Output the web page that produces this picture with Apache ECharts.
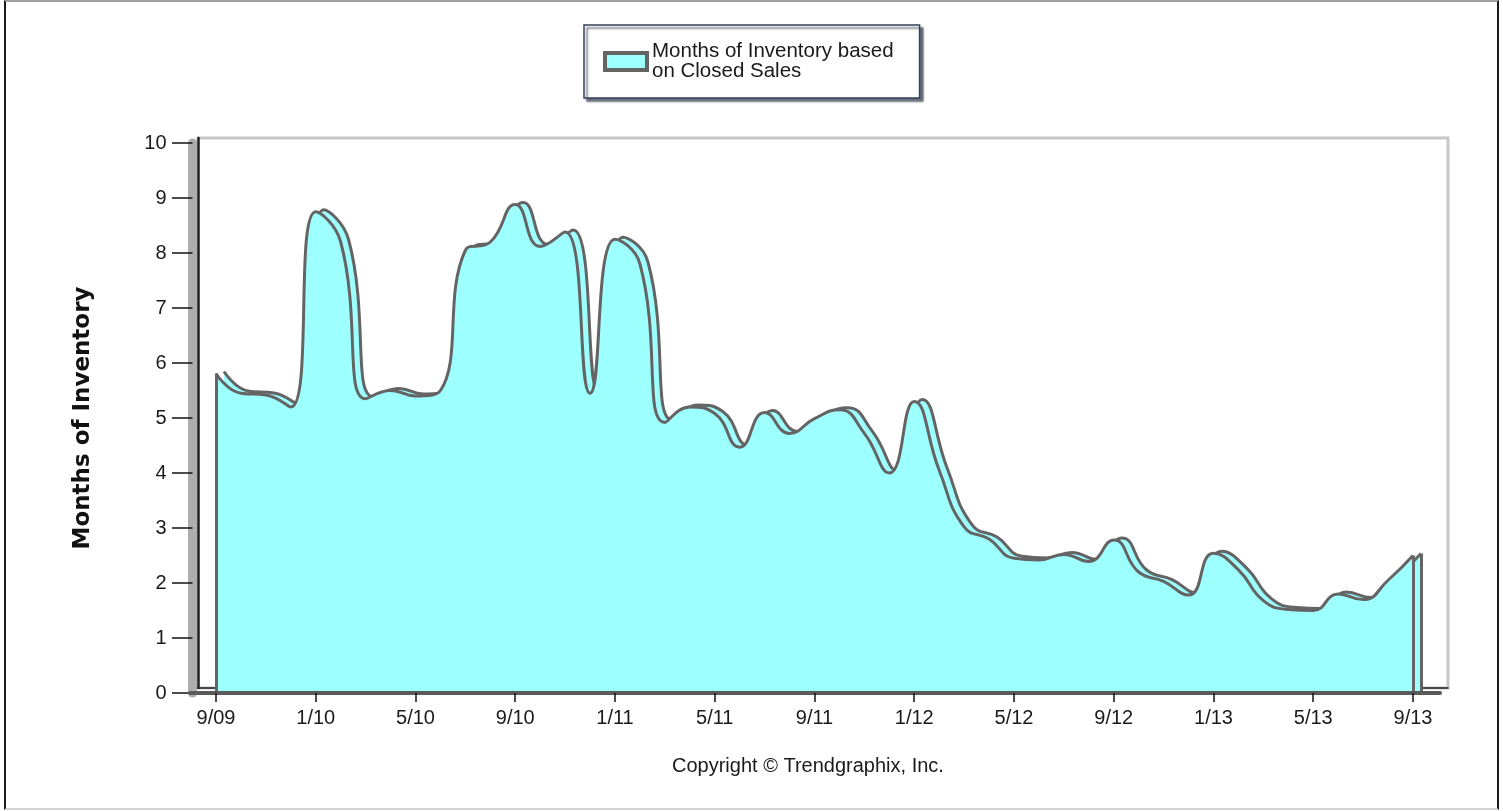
<!DOCTYPE html>
<html>
<head>
<meta charset="utf-8">
<script src="https://cdn.jsdelivr.net/npm/echarts@6/dist/echarts.min.js"></script>
<style>
  html, body { margin: 0; padding: 0; background: #fff; }
  #chart { position: absolute; left: 0; top: 0; width: 1503px; height: 811px; }
  #frame { position: absolute; left: 4px; top: 0; width: 1495px; height: 810px; box-sizing: border-box;
           border-left: 2px solid #1a1a1a; border-right: 2px solid #1a1a1a;
           border-top: 2px solid #a0a0a0; border-bottom: 2px solid #d4d4d4; pointer-events: none; }
</style>
</head>
<body>
<div id="chart"></div>
<div id="frame"></div>
<script>
const months = ['9/09','10/09','11/09','12/09',
  '1/10','2/10','3/10','4/10','5/10','6/10','7/10','8/10','9/10','10/10','11/10','12/10',
  '1/11','2/11','3/11','4/11','5/11','6/11','7/11','8/11','9/11','10/11','11/11','12/11',
  '1/12','2/12','3/12','4/12','5/12','6/12','7/12','8/12','9/12','10/12','11/12','12/12',
  '1/13','2/13','3/13','4/13','5/13','6/13','7/13','8/13','9/13'];

const inventory = [5.81,5.45,5.42,5.2,8.75,8.2,5.35,5.5,5.4,5.5,
  8.05,8.2,8.88,8.12,8.38,5.45,8.25,7.8,4.92,5.2,
  5.08,4.47,5.1,4.72,4.99,5.15,4.72,4.0,5.3,4.05,
  3.02,2.8,2.45,2.42,2.52,2.39,2.78,2.2,2.03,1.78,
  2.54,2.24,1.68,1.52,1.5,1.8,1.7,2.05,2.5];

const tickLabels = ['9/09','1/10','5/10','9/10','1/11','5/11','9/11','1/12','5/12','9/12','1/13','5/13','9/13'];

const seriesName = 'Months of Inventory based on Closed Sales';
const legendText = 'Months of Inventory based\non Closed Sales';
const yAxisTitle = 'Months of Inventory';
const copyright = 'Copyright \u00A9 Trendgraphix, Inc.';

const points = inventory.map((v, i) => [i, v]);
const tickIdx = tickLabels.map(l => months.indexOf(l));
const last = inventory.length - 1;

const FONT = 'Liberation Sans, Arial, sans-serif';
const FILL = '#9effff';
const LINE = '#646464';
const xMin = -1.0426, xMax = 49.083;

function hiddenX(g, lineColor) {
  return { type: 'value', gridIndex: g, min: xMin, max: xMax,
    axisLine: { show: !!lineColor, onZero: false, lineStyle: { color: lineColor || '#000', width: 1.5 } },
    axisTick: { show: false }, axisLabel: { show: false }, splitLine: { show: false } };
}
function hiddenY(g, lineColor) {
  return { type: 'value', gridIndex: g, min: 0, max: 10, interval: 1,
    axisLine: { show: !!lineColor, onZero: false, lineStyle: { color: lineColor || '#000', width: 2.5 } },
    axisTick: { show: false }, axisLabel: { show: false }, splitLine: { show: false } };
}

const chart = echarts.init(document.getElementById('chart'));
chart.setOption({
  animation: false,
  backgroundColor: '#fff',
  title: {
    text: copyright, left: 672, top: 756, padding: 0,
    textStyle: { fontFamily: FONT, fontSize: 20, fontWeight: 'normal', color: '#1a1a1a' }
  },
  legend: {
    data: [seriesName],
    left: 584, top: 25,
    padding: [16, 26, 16, 19],
    itemWidth: 42, itemHeight: 17,
    icon: 'rect',
    itemStyle: { color: FILL, borderColor: LINE, borderWidth: 4 },
    formatter: () => legendText,
    textStyle: { fontFamily: FONT, fontSize: 20.5, lineHeight: 20, color: '#1a1a1a' },
    backgroundColor: '#fff',
    borderColor: '#34405a', borderWidth: 1.5,
    shadowColor: 'rgba(30,40,60,0.65)', shadowBlur: 2, shadowOffsetX: 3, shadowOffsetY: 3
  },
  grid: [
    { left: 190, right: 63, top: 143, bottom: 118, containLabel: false },
    { left: 198, right: 55, top: 141, bottom: 120, containLabel: false },
    { left: 198, right: 55, top: 138, bottom: 123, containLabel: false,
      show: true, borderColor: '#c6c6c6', borderWidth: 3, backgroundColor: 'transparent' }
  ],
  xAxis: [
    { type: 'value', gridIndex: 0, min: xMin, max: xMax, z: 5,
      axisLine: { show: true, onZero: false, lineStyle: { color: '#5a5a5a', width: 4 } },
      axisTick: { show: true, length: 9, customValues: tickIdx, lineStyle: { color: '#111', width: 1.5 } },
      axisLabel: { show: true, customValues: tickIdx, margin: 15, formatter: v => months[Math.round(v)],
                   fontFamily: FONT, fontSize: 20, color: '#1a1a1a' },
      splitLine: { show: false } },
    hiddenX(1),
    hiddenX(2, '#222')
  ],
  yAxis: [
    { type: 'value', gridIndex: 0, min: 0, max: 10, interval: 1, offset: -2.5,
      name: yAxisTitle, nameLocation: 'middle', nameRotate: 90, nameGap: 98,
      nameTextStyle: { fontFamily: 'DejaVu Sans, sans-serif', fontSize: 23, fontWeight: 'bold', color: '#111' },
      axisLine: { show: true, onZero: false, lineStyle: { color: '#adadad', width: 9 } },
      axisTick: { show: true, length: 20.5, lineStyle: { color: '#111', width: 1.5 } },
      axisLabel: { margin: 26, fontFamily: FONT, fontSize: 20, color: '#1a1a1a' },
      splitLine: { show: false } },
    hiddenY(1),
    hiddenY(2, '#222')
  ],
  series: [
    { name: 'depth', type: 'line', xAxisIndex: 1, yAxisIndex: 1, z: 2,
      data: points, smooth: 0.5, showSymbol: false, silent: true,
      lineStyle: { color: LINE, width: 3 }, areaStyle: { color: FILL, opacity: 1 },
      markLine: { silent: true, symbol: ['none', 'none'], label: { show: false },
        lineStyle: { color: LINE, width: 3, type: 'solid' },
        data: [[{ coord: [last, 0] }, { coord: [last, inventory[last]] }]] } },
    { name: seriesName, type: 'line', xAxisIndex: 0, yAxisIndex: 0, z: 3,
      data: points, smooth: 0.5, showSymbol: false,
      lineStyle: { color: LINE, width: 3 }, areaStyle: { color: FILL, opacity: 1 },
      markLine: { silent: true, symbol: ['none', 'none'], label: { show: false },
        lineStyle: { color: LINE, width: 3, type: 'solid' },
        data: [[{ coord: [0, 0] }, { coord: [0, inventory[0]] }],
               [{ coord: [last, 0] }, { coord: [last, inventory[last]] }]] } }
  ]
});
</script>
</body>
</html>
